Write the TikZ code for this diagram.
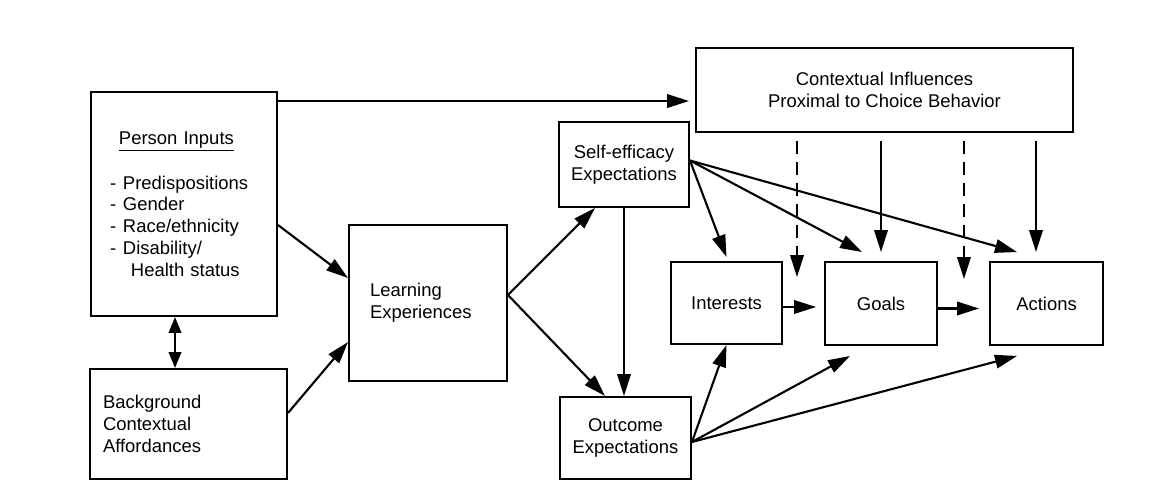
\documentclass[tikz,border=0pt]{standalone}
\usepackage{fontspec}
\setmainfont{Liberation Sans}
\usetikzlibrary{arrows.meta}
\newcommand{\pitem}[1]{\makebox[0.26cm][l]{-}#1}
\tikzset{
  box/.style={draw,line width=1.1pt,font=\fontsize{10.5}{12.4}\selectfont,align=center},
  lbox/.style={box,align=left},
  arr/.style={line width=1.2pt,-{Triangle[length=0.44cm,width=0.27cm]}},
  darr/.style={arr,dash pattern=on 0.26cm off 0.16cm},
  dbl/.style={line width=1.2pt,{Triangle[length=0.32cm,width=0.25cm]}-{Triangle[length=0.32cm,width=0.25cm]}}
}
\begin{document}
\begin{tikzpicture}
\useasboundingbox (0,0) rectangle (23.02,-9.96);
\node[lbox,minimum width=3.72cm,minimum height=4.48cm,inner xsep=0.38cm,text width=2.96cm] (pin) at (3.68,-4.08)
  {\hspace*{0.18cm}\underline{Person Inputs}\\[0.46cm]
   \pitem{Predispositions}\\ \pitem{Gender}\\ \pitem{Race/ethnicity}\\ \pitem{Disability/}\\ \hspace*{0.42cm}Health status};
\node[lbox,minimum width=3.94cm,minimum height=2.2cm,inner xsep=0.26cm,text width=3.42cm] (bg) at (3.77,-8.48)
  {Background\\ Contextual\\ Affordances};
\node[lbox,minimum width=3.16cm,minimum height=3.12cm,inner xsep=0.42cm,text width=2.32cm] (learn) at (8.56,-6.06)
  {Learning\\ Experiences};
\node[box,minimum width=2.6cm,minimum height=1.7cm] (self) at (12.48,-3.29) {Self-efficacy\\ Expectations};
\node[box,minimum width=2.62cm,minimum height=1.64cm] (out) at (12.51,-8.76) {Outcome\\ Expectations};
\node[box,minimum width=2.22cm,minimum height=1.64cm] (int) at (14.53,-6.06) {Interests};
\node[box,minimum width=2.24cm,minimum height=1.66cm] (goals) at (17.62,-6.07) {Goals};
\node[box,minimum width=2.26cm,minimum height=1.66cm] (act) at (20.93,-6.07) {Actions};
\node[box,minimum width=7.54cm,minimum height=1.68cm] (ctx) at (17.69,-1.80)
  {Contextual Influences\\ Proximal to Choice Behavior};

\coordinate (pc) at ([yshift=-0.2cm]pin.north east);
\coordinate (pb) at ([xshift=-0.18cm]pin.south);
\coordinate (lf) at ([yshift=0.16cm]learn.east);
\coordinate (sf) at ([yshift=0.08cm]self.east);
\coordinate (of) at ([yshift=-0.08cm]out.east);
\coordinate (ig) at ([yshift=-0.08cm]int.east);
\coordinate (ga) at ([yshift=-0.1cm]goals.east);
\coordinate (ca) at ([xshift=-0.21cm]act.north);
\coordinate (d1) at ([xshift=1.41cm,yshift=-0.32cm]int.north);
\coordinate (d2) at ([xshift=0.52cm,yshift=-0.36cm]goals.north east);

\draw[arr,shorten >=0.12cm] (pc) -- (pc -| ctx.west);
\draw[dbl] (pb) -- (pb |- bg.north);
\draw[arr] ([yshift=-0.42cm]pin.east) -- ([yshift=0.5cm]learn.west);
\draw[arr] ([yshift=0.22cm]bg.east) -- ([yshift=-0.78cm]learn.west);
\draw[arr] (lf) -- ([xshift=-0.58cm]self.south);
\draw[arr] (lf) -- ([xshift=-0.41cm]out.north);
\draw[arr] (self.south) -- (self.south |- out.north);
\draw[arr] (sf) -- ([yshift=0.08cm]int.north);
\draw[arr] (sf) -- ([xshift=-0.38cm,yshift=0.18cm]goals.north);
\draw[arr] (sf) -- ([xshift=-0.59cm,yshift=0.18cm]act.north);
\draw[darr,shorten <=0.16cm] (d1 |- ctx.south) -- (d1);
\draw[arr,shorten <=0.16cm,shorten >=0.18cm] (goals.north |- ctx.south) -- (goals.north);
\draw[darr,shorten <=0.16cm] (d2 |- ctx.south) -- (d2);
\draw[arr,shorten <=0.16cm,shorten >=0.18cm] (ca |- ctx.south) -- (ca);
\draw[arr] (of) -- (int.south);
\draw[arr] (of) -- ([xshift=-0.62cm,yshift=-0.2cm]goals.south);
\draw[arr] (of) -- ([xshift=-0.59cm,yshift=-0.2cm]act.south);
\draw[arr,shorten >=0.16cm] (ig) -- (ig -| goals.west);
\draw[arr,shorten >=0.2cm] (ga) -- (ga -| act.west);
\end{tikzpicture}
\end{document}
